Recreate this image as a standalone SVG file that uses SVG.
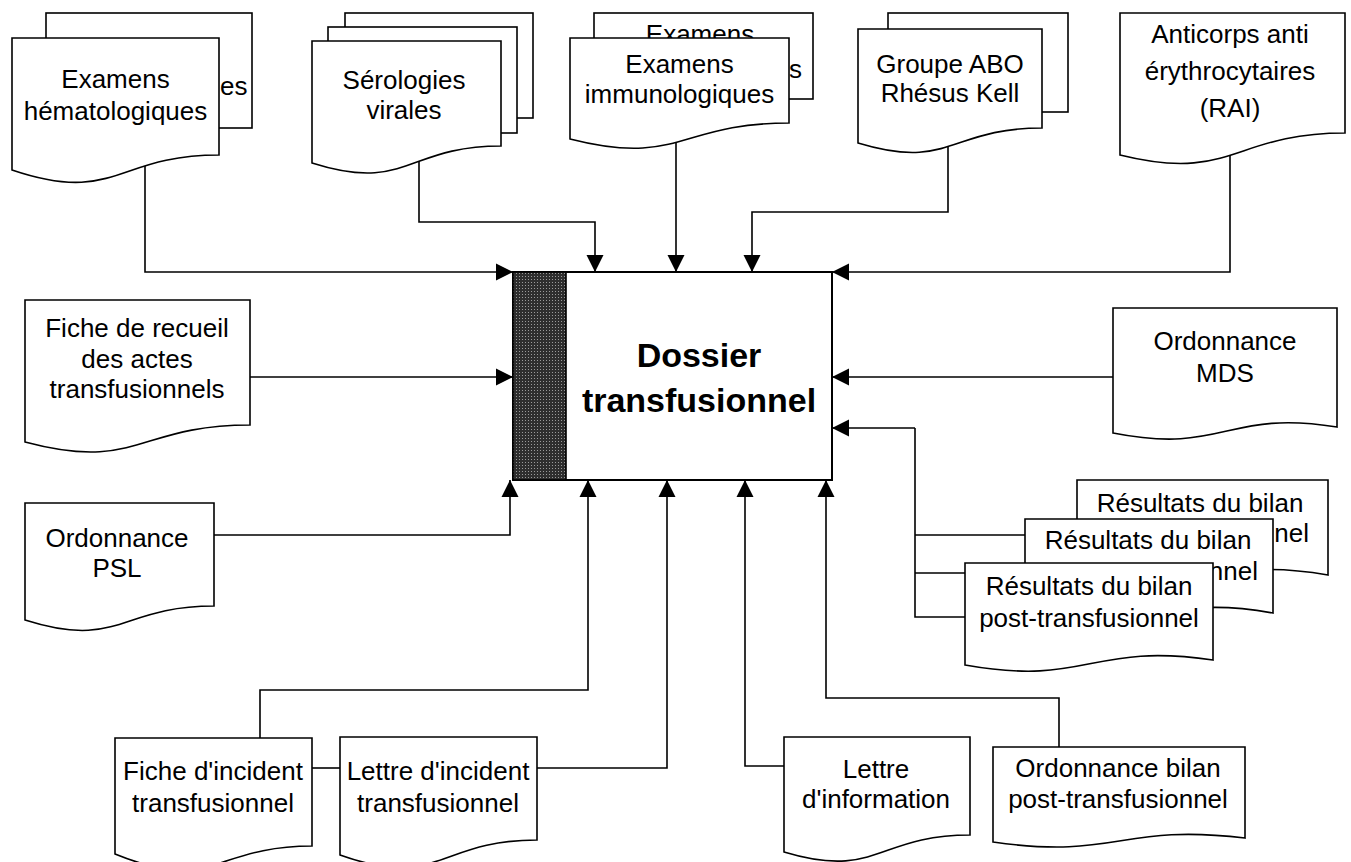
<svg xmlns="http://www.w3.org/2000/svg" width="1351" height="862" viewBox="0 0 1351 862">
<style>
.doc{fill:#fff;stroke:#000;stroke-width:1.6;stroke-linejoin:miter}
.ln{fill:none;stroke:#000;stroke-width:1.6}
.t{font-family:"Liberation Sans",Arial,sans-serif;font-size:26px;fill:#000;text-anchor:middle}
.te{font-family:"Liberation Sans",Arial,sans-serif;font-size:26px;fill:#000;text-anchor:end}
.ts{font-family:"Liberation Sans",Arial,sans-serif;font-size:26px;fill:#000;text-anchor:start}
.tb{font-family:"Liberation Sans",Arial,sans-serif;font-size:34px;font-weight:bold;fill:#000;text-anchor:middle}
</style>
<defs>
<marker id="arr" markerWidth="18" markerHeight="18" refX="17" refY="9" orient="auto" markerUnits="userSpaceOnUse">
<path d="M0,0.5 L17,9 L0,17.5 Z" fill="#000"/>
</marker>
<pattern id="shade" width="3" height="3" patternUnits="userSpaceOnUse">
<rect width="3" height="3" fill="#2e2e2e"/>
<rect width="1" height="1" fill="#9a9a9a"/>
</pattern>
</defs>
<rect width="1351" height="862" fill="#fff"/>

<g id="dossier">
<rect x="513" y="272" width="319" height="208" fill="#fff" stroke="#000" stroke-width="2"/>
<rect x="513" y="272" width="53" height="208" fill="url(#shade)" stroke="#000" stroke-width="1.6"/>
<text class="tb" x="699" y="367">Dossier</text>
<text class="tb" x="699" y="412">transfusionnel</text>
</g>

<g id="connectors">
<path class="ln" d="M145,150 V272 H513" marker-end="url(#arr)"/>
<path class="ln" d="M419,140 V222 H595 V272" marker-end="url(#arr)"/>
<path class="ln" d="M676,120 V272" marker-end="url(#arr)"/>
<path class="ln" d="M948,120 V212 H752 V272" marker-end="url(#arr)"/>
<path class="ln" d="M1230,130 V272 H832" marker-end="url(#arr)"/>
<path class="ln" d="M250,377 H513" marker-end="url(#arr)"/>
<path class="ln" d="M1113,377 H832" marker-end="url(#arr)"/>
<path class="ln" d="M1025,535 H915 M965,573 H915 M965,617 H915 V428"/>
<path class="ln" d="M915,428 H832" marker-end="url(#arr)"/>
<path class="ln" d="M214,535 H510 V480" marker-end="url(#arr)"/>
<path class="ln" d="M260,738 V690 H588 V480" marker-end="url(#arr)"/>
<path class="ln" d="M312,768 H340"/>
<path class="ln" d="M537,768 H667 V480" marker-end="url(#arr)"/>
<path class="ln" d="M784,766 H745 V480" marker-end="url(#arr)"/>
<path class="ln" d="M1059,747 V698 H826 V480" marker-end="url(#arr)"/>
</g>

<g id="examens-hematologiques">
<rect class="doc" x="46" y="13" width="206" height="115"/>
<text class="ts" x="220" y="95">es</text>
<path class="doc" d="M12,38 H219 V155 C115.5,155 115.5,205 12,170 Z"/>
<text class="t" x="115.5" y="88">Examens</text>
<text class="t" x="115.5" y="120">hématologiques</text>
</g>

<g id="serologies-virales">
<rect class="doc" x="345" y="13" width="188" height="105"/>
<rect class="doc" x="328" y="27" width="189" height="106"/>
<path class="doc" d="M312,41 H501 V146 C406.5,146 406.5,193 312,163 Z"/>
<text class="t" x="404" y="89">Sérologies</text>
<text class="t" x="404" y="119">virales</text>
</g>

<g id="examens-immunologiques">
<rect class="doc" x="594" y="13" width="219" height="86"/>
<text class="t" x="700" y="43">Examens</text>
<text class="ts" x="789" y="78">s</text>
<path class="doc" d="M570,38 H789 V123 C679.5,123 679.5,167 570,139 Z"/>
<text class="t" x="679.5" y="73">Examens</text>
<text class="t" x="679.5" y="103">immunologiques</text>
</g>

<g id="groupe-abo">
<rect class="doc" x="888" y="13" width="180" height="99"/>
<path class="doc" d="M858,29 H1042 V128 C950,128 950,171 858,143 Z"/>
<text class="t" x="950" y="73">Groupe ABO</text>
<text class="t" x="950" y="102">Rhésus Kell</text>
</g>

<g id="anticorps-rai">
<path class="doc" d="M1120,13 H1345 V133 C1232.5,133 1232.5,183 1120,155 Z"/>
<text class="t" x="1230" y="43">Anticorps anti</text>
<text class="t" x="1230" y="80">érythrocytaires</text>
<text class="t" x="1230" y="117">(RAI)</text>
</g>

<g id="fiche-recueil">
<path class="doc" d="M25,300 H250 V425 C137.5,425 137.5,472 25,442 Z"/>
<text class="t" x="137" y="337">Fiche de recueil</text>
<text class="t" x="137" y="368">des actes</text>
<text class="t" x="137" y="398">transfusionnels</text>
</g>

<g id="ordonnance-psl">
<path class="doc" d="M25,503 H214 V606 C119.5,606 119.5,650 25,620 Z"/>
<text class="t" x="117" y="547">Ordonnance</text>
<text class="t" x="117" y="577">PSL</text>
</g>

<g id="ordonnance-mds">
<path class="doc" d="M1113,308 H1337 V427 C1225,409 1225,455 1113,433 Z"/>
<text class="t" x="1225" y="350">Ordonnance</text>
<text class="t" x="1225" y="382">MDS</text>
</g>

<g id="resultats-bilan">
<path class="doc" d="M1077,480 H1328 V575 C1202.5,553 1202.5,605 1077,585 Z"/>
<text class="t" x="1200" y="512">Résultats du bilan</text>
<text class="te" x="1309" y="542">nel</text>
<path class="doc" d="M1025,519 H1273 V613 C1149,591 1149,642 1025,622 Z"/>
<text class="t" x="1148" y="549">Résultats du bilan</text>
<text class="te" x="1258" y="580">nnel</text>
<path class="doc" d="M965,563 H1213 V660 C1089,642 1089,687 965,665 Z"/>
<text class="t" x="1089" y="595">Résultats du bilan</text>
<text class="t" x="1089" y="627">post-transfusionnel</text>
</g>

<g id="fiche-incident">
<path class="doc" d="M115,738 H312 V846 C213.5,846 213.5,894 115,854 Z"/>
<text class="t" x="213" y="780">Fiche d'incident</text>
<text class="t" x="213" y="812">transfusionnel</text>
</g>

<g id="lettre-incident">
<path class="doc" d="M340,737 H537 V840 C438.5,840 438.5,890 340,855 Z"/>
<text class="t" x="438" y="780">Lettre d'incident</text>
<text class="t" x="438" y="812">transfusionnel</text>
</g>

<g id="lettre-information">
<path class="doc" d="M784,737 H970 V835 C877,835 877,880 784,852 Z"/>
<text class="t" x="876" y="778">Lettre</text>
<text class="t" x="876" y="808">d'information</text>
</g>

<g id="ordonnance-bilan">
<path class="doc" d="M993,747 H1245 V838 C1119,823 1119,860 993,842 Z"/>
<text class="t" x="1118" y="777">Ordonnance bilan</text>
<text class="t" x="1118" y="808">post-transfusionnel</text>
</g>
</svg>
